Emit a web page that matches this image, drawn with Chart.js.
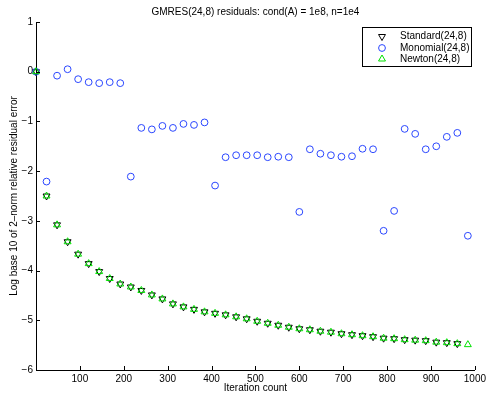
<!DOCTYPE html>
<html>
<head>
<meta charset="utf-8">
<title>GMRES residuals</title>
<script src="https://cdn.jsdelivr.net/npm/chart.js@4/dist/chart.umd.min.js"></script>
<style>
    html, body { margin: 0; padding: 0; background: #fff; }
    #wrap { width: 489px; height: 394px; }
</style>
</head>
<body>
<div id="wrap"><canvas id="resChart" width="489" height="394"></canvas></div>
<script>
"use strict";

// iteration counts (one point per restart cycle of 24)
const iterations = [
    0, 24, 48, 72, 96, 120, 144, 168, 192, 216, 240, 264, 288, 312,
    336, 360, 384, 408, 432, 456, 480, 504, 528, 552, 576, 600, 624, 648,
    672, 696, 720, 744, 768, 792, 816, 840, 864, 888, 912, 936, 960, 984
];

// log10 of relative residual
const standardRes = [
    0.00, -2.50, -3.08, -3.42, -3.67, -3.86, -4.02, -4.16, -4.27, -4.33, -4.40, -4.49, -4.57, -4.67,
    -4.73, -4.78, -4.83, -4.86, -4.89, -4.93, -4.97, -5.02, -5.06, -5.10, -5.14, -5.17, -5.19, -5.22,
    -5.24, -5.27, -5.29, -5.31, -5.33, -5.36, -5.37, -5.39, -5.40, -5.41, -5.44, -5.45, -5.47
];

const monomialRes = [
    0.00, -2.21, -0.08, 0.05, -0.15, -0.21, -0.23, -0.21, -0.23, -2.11, -1.13, -1.16, -1.09, -1.13,
    -1.05, -1.07, -1.02, -2.29, -1.72, -1.68, -1.68, -1.68, -1.72, -1.71, -1.72, -2.82, -1.56, -1.65,
    -1.68, -1.71, -1.70, -1.55, -1.56, -3.20, -2.80, -1.15, -1.25, -1.56, -1.50, -1.31, -1.23, -3.30
];

const newtonRes = [
    0.00, -2.50, -3.08, -3.42, -3.67, -3.86, -4.02, -4.16, -4.27, -4.33, -4.40, -4.49, -4.57, -4.67,
    -4.73, -4.78, -4.83, -4.86, -4.89, -4.93, -4.97, -5.02, -5.06, -5.10, -5.14, -5.17, -5.19, -5.22,
    -5.24, -5.27, -5.29, -5.31, -5.33, -5.36, -5.37, -5.39, -5.40, -5.41, -5.44, -5.45, -5.47, -5.49
];

const seriesLabels = ["Standard(24,8)", "Monomial(24,8)", "Newton(24,8)"];
const xTicks = [0, 100, 200, 300, 400, 500, 600, 700, 800, 900, 1000];
const yTicks = [1, 0, -1, -2, -3, -4, -5, -6];

const FONT = "'Liberation Sans', Arial, Helvetica, sans-serif";
const MINUS = "\u2212";

function toPoints(vals) {
    return vals.map((v, i) => ({ x: iterations[i], y: v }));
}

const markers = [
    { color: "#000000", style: "triangle", rotation: 180, radius: 4 },
    { color: "#2a46ff", style: "circle",   rotation: 0,   radius: 3.4 },
    { color: "#00e000", style: "triangle", rotation: 0,   radius: 4 }
];

// inward tick marks, title, axis labels and the boxed legend
const decorPlugin = {
    id: "decor",
    afterDraw(chart) {
        const ctx = chart.ctx;
        const xs = chart.scales.x, ys = chart.scales.y;
        const area = chart.chartArea;

        ctx.save();
        ctx.strokeStyle = "#000";
        ctx.lineWidth = 1;
        ctx.beginPath();
        xTicks.forEach(v => {
            const px = Math.round(xs.getPixelForValue(v)) + 0.5;
            ctx.moveTo(px, area.bottom);
            ctx.lineTo(px, area.bottom - 4);
        });
        yTicks.forEach(v => {
            const py = Math.round(ys.getPixelForValue(v)) + 0.5;
            ctx.moveTo(area.left, py);
            ctx.lineTo(area.left + 4, py);
        });
        ctx.stroke();

        ctx.fillStyle = "#000";
        ctx.font = "10px " + FONT;
        ctx.textAlign = "center";
        ctx.textBaseline = "middle";
        ctx.fillText("GMRES(24,8) residuals: cond(A) = 1e8, n=1e4", (area.left + area.right) / 2, 12);
        ctx.fillText("Iteration count", (area.left + area.right) / 2, 388);

        ctx.save();
        ctx.translate(14, (area.top + area.bottom) / 2);
        ctx.rotate(-Math.PI / 2);
        ctx.fillText("Log base 10 of 2\u2013norm relative residual error", 0, 0);
        ctx.restore();

        // legend
        const lx = 362.5, ly = 27.5, lw = 109, lh = 39;
        ctx.fillStyle = "#fff";
        ctx.fillRect(lx, ly, lw, lh);
        ctx.strokeStyle = "#000";
        ctx.strokeRect(lx, ly, lw, lh);

        const rows = [36.5, 48, 59];
        seriesLabels.forEach((label, i) => {
            const m = markers[i];
            ctx.strokeStyle = m.color;
            ctx.fillStyle = "rgba(0,0,0,0)";
            ctx.lineWidth = 1;
            Chart.helpers.drawPoint(ctx, {
                pointStyle: m.style, rotation: m.rotation, radius: m.radius, borderWidth: 1
            }, 382, rows[i]);
            ctx.fillStyle = "#000";
            ctx.textAlign = "left";
            ctx.textBaseline = "middle";
            ctx.fillText(label, 400, rows[i]);
        });
        ctx.restore();
    }
};

const chart = new Chart(document.getElementById("resChart"), {
    type: "scatter",
    data: {
        datasets: [standardRes, monomialRes, newtonRes].map((vals, i) => ({
            label: seriesLabels[i],
            data: toPoints(vals),
            showLine: false,
            clip: false,
            pointStyle: markers[i].style,
            pointRotation: markers[i].rotation,
            pointRadius: markers[i].radius,
            pointHoverRadius: markers[i].radius,
            pointBorderWidth: 1,
            pointBorderColor: markers[i].color,
            pointBackgroundColor: "rgba(0,0,0,0)",
            order: 2 - i
        }))
    },
    options: {
        responsive: false,
        animation: false,
        events: [],
        layout: { padding: { left: 0, right: 13, top: 22, bottom: 0 } },
        plugins: {
            legend: { display: false },
            title: { display: false },
            tooltip: { enabled: false }
        },
        scales: {
            x: {
                type: "linear",
                min: 0, max: 1000,
                afterBuildTicks: s => { s.ticks = xTicks.map(v => ({ value: v })); },
                afterFit: s => { s.height = 24; },
                grid: { display: false, drawTicks: false },
                border: { display: true, color: "#000", width: 1 },
                ticks: {
                    color: "#000",
                    font: { family: FONT, size: 10 },
                    padding: 3,
                    maxRotation: 0,
                    autoSkip: false,
                    callback: v => v === 0 ? "" : String(v)
                }
            },
            y: {
                type: "linear",
                min: -6, max: 1,
                afterBuildTicks: s => { s.ticks = yTicks.slice().reverse().map(v => ({ value: v })); },
                afterFit: s => { s.width = 36; },
                grid: { display: false, drawTicks: false },
                border: { display: true, color: "#000", width: 1 },
                ticks: {
                    color: "#000",
                    font: { family: FONT, size: 10 },
                    padding: 3,
                    autoSkip: false,
                    callback: v => v < 0 ? MINUS + Math.abs(v) : String(v)
                }
            }
        }
    },
    plugins: [decorPlugin]
});
</script>
</body>
</html>
